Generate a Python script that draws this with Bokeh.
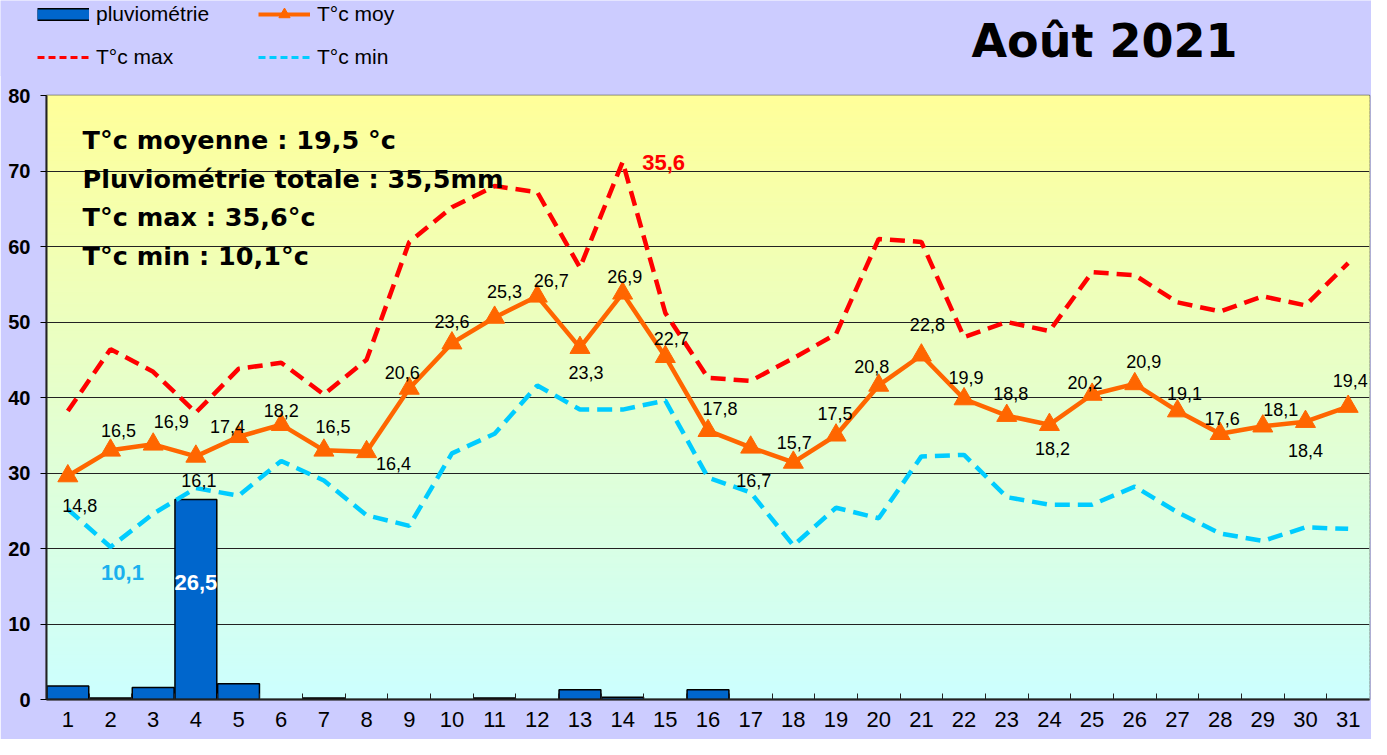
import numpy as np
from bokeh.plotting import figure
from bokeh.layouts import column
from bokeh.models import Range1d, FixedTicker, Legend, LegendItem, Label, ColumnDataSource
from bokeh.core.properties import value
from bokeh.embed import file_html
from bokeh.resources import INLINE

# ---------------- data ----------------
days = list(range(1, 32))
pluvio = [1.8, 0.2, 1.6, 26.5, 2.1, 0, 0.2, 0, 0, 0, 0.2, 0, 1.3, 0.3, 0, 1.3,
          0, 0, 0, 0, 0, 0, 0, 0, 0, 0, 0, 0, 0, 0, 0]
t_moy = [14.8, 16.5, 16.9, 16.1, 17.4, 18.2, 16.5, 16.4, 20.6, 23.6, 25.3, 26.7, 23.3, 26.9, 22.7,
         17.8, 16.7, 15.7, 17.5, 20.8, 22.8, 19.9, 18.8, 18.2, 20.2, 20.9, 19.1, 17.6, 18.1, 18.4, 19.4]
t_max = [19.1, 23.2, 21.7, 19.0, 21.9, 22.3, 20.2, 22.5, 30.3, 32.6, 34.0, 33.6, 28.6, 35.6, 25.6,
         21.3, 21.1, 22.6, 24.2, 30.5, 30.3, 24.0, 25.0, 24.4, 28.3, 28.1, 26.3, 25.7, 26.7, 26.1, 28.9]
t_min = [12.6, 10.1, 12.3, 14.0, 13.5, 15.8, 14.5, 12.2, 11.5, 16.3, 17.6, 20.8, 19.2, 19.2, 19.8,
         14.7, 13.7, 10.2, 12.7, 12.0, 16.1, 16.2, 13.4, 12.9, 12.9, 14.1, 12.4, 11.0, 10.5, 11.4, 11.3]
y_ticks = [0, 10, 20, 30, 40, 50, 60, 70, 80]
title_text = "Août 2021"
legend_labels = ["pluviométrie", "T°c moy", "T°c max", "T°c min"]
summary_lines = ["T°c moyenne : 19,5 °c", "Pluviométrie totale : 35,5mm",
                 "T°c max : 35,6°c", "T°c min :  10,1°c"]

# label placement (screen px offsets, style only)
lab_dx = [12, 8, 18, 3, -11, 0, 9, 27, -7, 0, 10, 14, 6, 2, 6, 12, 3, 1, -1, -7, 6, 2, 4, 3, -7, 9, 7, 2, 18, 0, 2]
lab_dy = [29, -20, -23, 24, -10, -14, -24, 12, -16, -22, -26, -16, 25, -17, -18, -22, 33, -20, -22, -19,
          -31, -22, -22, 24, -12, -22, -18, -15, -17, 29, -26]

def fr(v):
    return f"{v:.1f}".replace(".", ",")

ORANGE = "#FF6600"
RED = "#FF0000"
CYAN = "#00CCFF"
BLUE = "#0066CC"
LAV = "#CCCCFF"

W = 1371
HEAD_H = 76
MAIN_H = 739 - HEAD_H + 1

# ---------------- header (legend + title) ----------------
head = figure(width=W, height=HEAD_H, x_range=Range1d(0, W), y_range=Range1d(HEAD_H, 0),
              output_backend="svg", toolbar_location=None, x_axis_type=None, y_axis_type=None,
              background_fill_color=LAV, border_fill_color=LAV, outline_line_color=None,
              min_border_left=0, min_border_right=0, min_border_top=0, min_border_bottom=0)
if "frame_align" in head.properties():
    head.frame_align = False
head.xgrid.visible = False
head.ygrid.visible = False

# legend proxies (single off-screen point each, never visible in the frame)
off = dict(x=[-1000], y=[-1000])
hb1 = head.line(line_color="black", line_width=13, **off)
hb2 = head.line(line_color=BLUE, line_width=10, **off)
hm1 = head.line(line_color=ORANGE, line_width=4, **off)
hm2 = head.scatter(marker="triangle", fill_color=ORANGE, line_color=ORANGE, **off)
hx = head.line(line_color=RED, line_width=3, line_dash="7 4", **off)
hn = head.line(line_color=CYAN, line_width=3, line_dash="7 4", **off)

common = dict(orientation="horizontal", glyph_width=52, glyph_height=28, label_height=28, label_width=155,
              label_standoff=7, spacing=7, padding=0, margin=0, border_line_color=None,
              background_fill_alpha=0, label_text_font="Liberation Sans", label_text_font_size="21px",
              label_text_color="black")
leg1 = Legend(items=[LegendItem(label=legend_labels[0], renderers=[hb1, hb2]),
                     LegendItem(label=legend_labels[1], renderers=[hm1, hm2])],
              location=(37, 48), **common)
leg2 = Legend(items=[LegendItem(label=legend_labels[2], renderers=[hx]),
                     LegendItem(label=legend_labels[3], renderers=[hn])],
              location=(37, 5), **common)
head.add_layout(leg1)
head.add_layout(leg2)
head.add_layout(Label(x=971, y=40, text=title_text, text_font="DejaVu Sans", text_font_style="bold",
                      text_font_size="46px", text_color="black", text_baseline="alphabetic",
                      text_align="left"))

# ---------------- main chart ----------------
p = figure(width=W, height=MAIN_H, x_range=Range1d(0.5, 31.5), y_range=Range1d(0, 80),
           output_backend="svg", toolbar_location=None,
           background_fill_color="#CCFFFF", border_fill_color=LAV,
           outline_line_color="#555555", outline_line_width=1.5,
           min_border_left=46, min_border_right=2, min_border_top=20, min_border_bottom=40)
p.margin = (-1, 0, 0, 0)
p.extra_y_ranges = {"temp": Range1d(0, 40)}

# gradient background of plot area
n = 160
ys = np.linspace(0, 80, n + 1)
top_c = np.array([255, 255, 153])
bot_c = np.array([204, 255, 255])
cols = []
for i in range(n):
    t = (ys[i] + ys[i + 1]) / 2 / 80
    c = bot_c + (top_c - bot_c) * t
    cols.append("#%02x%02x%02x" % tuple(int(round(v)) for v in c))
bg = p.quad(left=0.5, right=31.5, bottom=ys[:-1], top=ys[1:], fill_color=cols, line_color=cols, line_width=1)
bg.level = "image"

# axes
p.yaxis.ticker = FixedTicker(ticks=y_ticks)
p.yaxis.major_label_text_font = "Liberation Sans"
p.yaxis.major_label_text_font_style = "bold"
p.yaxis.major_label_text_font_size = "20px"
p.yaxis.major_label_text_color = "black"
p.yaxis.major_tick_out = 6
p.yaxis.major_tick_in = 0
p.yaxis.minor_tick_line_color = None
p.yaxis.major_label_standoff = 10
p.yaxis.axis_line_color = "#222222"
p.yaxis.axis_line_width = 2

p.xaxis.ticker = FixedTicker(ticks=days, minor_ticks=[d + 0.5 for d in days[:-1]])
p.xaxis.major_label_text_font = "Liberation Sans"
p.xaxis.major_label_text_font_size = "22px"
p.xaxis.major_label_text_color = "black"
p.xaxis.major_tick_out = 0
p.xaxis.major_tick_in = 0
p.xaxis.minor_tick_in = 6
p.xaxis.minor_tick_out = 0
p.xaxis.minor_tick_line_color = "#222222"
p.xaxis.major_label_standoff = 12
p.xaxis.axis_line_color = "#222222"
p.xaxis.axis_line_width = 2

p.xgrid.visible = False
p.ygrid.ticker = FixedTicker(ticks=y_ticks)
p.ygrid.grid_line_color = "#222222"
p.ygrid.grid_line_width = 1

src = ColumnDataSource(dict(day=days, pluvio=pluvio, moy=t_moy, tmax=t_max, tmin=t_min,
                            lab=[fr(v) for v in t_moy], dx=lab_dx, dy=lab_dy))

# bars
p.vbar(x="day", top="pluvio", width=0.98, source=src, fill_color=BLUE, line_color="black", line_width=1.5)

# temperature lines (secondary 0-40 scale)
p.line(x="day", y="tmax", source=src, y_range_name="temp", line_color=RED, line_width=4.5, line_dash="15 8")
p.line(x="day", y="tmin", source=src, y_range_name="temp", line_color=CYAN, line_width=4.5, line_dash="15 8")
p.line(x="day", y="moy", source=src, y_range_name="temp", line_color=ORANGE, line_width=4.5)
p.scatter(x="day", y="moy", source=src, y_range_name="temp", marker="triangle", size=20,
          fill_color=ORANGE, line_color=ORANGE)

# data labels
p.text(x="day", y="moy", text="lab", source=src, y_range_name="temp", x_offset="dx", y_offset="dy",
       text_font=value("Liberation Sans"), text_font_size="18px", text_color="black",
       text_align="center", text_baseline="middle")

imax = t_max.index(max(t_max))
imin = t_min.index(min(t_min))
irain = pluvio.index(max(pluvio))
p.text(x=[days[imax]], y=[t_max[imax]], text=[fr(t_max[imax])], y_range_name="temp", x_offset=41, y_offset=1,
       text_font=value("Liberation Sans"), text_font_style="bold", text_font_size="22px", text_color=RED,
       text_align="center", text_baseline="middle")
p.text(x=[days[imin]], y=[t_min[imin]], text=[fr(t_min[imin])], y_range_name="temp", x_offset=12, y_offset=26,
       text_font=value("Liberation Sans"), text_font_style="bold", text_font_size="22px", text_color="#1AB0EE",
       text_align="center", text_baseline="middle")
p.text(x=[days[irain]], y=[pluvio[irain] / 2], text=[fr(pluvio[irain])], x_offset=0, y_offset=-17,
       text_font=value("Liberation Sans"), text_font_style="bold", text_font_size="22px", text_color="white",
       text_align="center", text_baseline="middle")

# summary text block
for txt, yb in zip(summary_lines, [74.05, 68.9, 63.85, 58.8]):
    p.add_layout(Label(x=1.344, y=yb, text=txt, text_font="DejaVu Sans", text_font_style="bold",
                       text_font_size="25.5px", text_color="black", text_baseline="alphabetic",
                       text_align="left"))

layout = column(head, p, spacing=0)
open("out.html", "w").write(file_html(layout, INLINE))
